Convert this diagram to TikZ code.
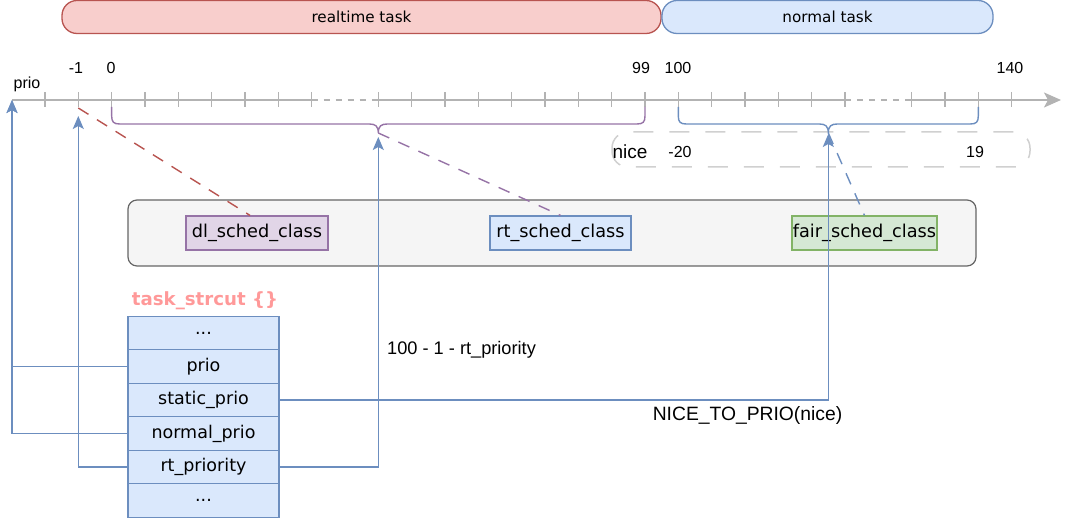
\documentclass[tikz,border=0pt]{standalone}
\usepackage{fontspec}
\setmainfont{DejaVu Sans}
\newfontfamily\arialf{Liberation Sans}
\usetikzlibrary{arrows.meta}
\definecolor{axisgray}{HTML}{B3B3B3}
\definecolor{bluel}{HTML}{6C8EBF}
\definecolor{bluef}{HTML}{DAE8FC}
\definecolor{redl}{HTML}{B85450}
\definecolor{redf}{HTML}{F8CECC}
\definecolor{purl}{HTML}{9673A6}
\definecolor{purf}{HTML}{E1D5E7}
\definecolor{grnl}{HTML}{82B366}
\definecolor{grnf}{HTML}{D5E8D4}
\definecolor{boxf}{HTML}{F5F5F5}
\definecolor{boxl}{HTML}{666666}
\definecolor{nicegray}{HTML}{D0D0D0}
\definecolor{titlec}{HTML}{FF9999}
\tikzset{
  pill/.style={draw, line width=1.3pt, rounded corners=15pt, inner sep=0pt,
    font=\fontsize{15.2}{17}\selectfont},
  axisline/.style={draw=axisgray, line width=1.8pt},
  tickmark/.style={draw=axisgray, line width=1.5pt},
  num/.style={font=\arialf\fontsize{16}{18}\selectfont, inner sep=0pt},
  lbl/.style={font=\arialf\fontsize{18.2}{20}\selectfont, inner sep=0pt},
  bracestyle/.style={line width=1.4pt, rounded corners=0pt},
  classbox/.style={draw, line width=1.2pt, minimum height=34pt, inner sep=0pt,
    font=\fontsize{17.7}{20}\selectfont},
  cell/.style={draw=bluel, fill=bluef, line width=1.3pt, minimum width=151pt,
    minimum height=33.5pt, inner sep=0pt, font=\fontsize{17.5}{20}\selectfont},
  conn/.style={draw=bluel, line width=1.4pt,
    -{Stealth[length=13pt,width=11pt,inset=3pt]}},
  dashlink/.style={line width=1.4pt, dash pattern=on 12pt off 10pt},
}
\newcommand{\mkbrace}[4]{% x1, xmid, x2, colour
  \draw[bracestyle, draw=#4] (#1,107) -- (#1,116)
    .. controls (#1,122) and ({#1+2},124) .. ({#1+8},124)
    -- ({#2-9},124) .. controls ({#2-3},124) and (#2,126) .. (#2,133)
    .. controls (#2,126) and ({#2+3},124) .. ({#2+9},124)
    -- ({#3-8},124) .. controls ({#3-2},124) and (#3,122) .. (#3,116)
    -- (#3,107);}
\begin{document}
\begin{tikzpicture}[x=1pt,y=-1pt]
\useasboundingbox (0,0) rectangle (1080,518);

% top bars
\node[pill, draw=redl, fill=redf, minimum width=599pt, minimum height=33pt] (rtbar) at (361.5,17) {realtime task};
\node[pill, draw=bluel, fill=bluef, minimum width=331pt, minimum height=33pt] (nbar) at (827.5,17) {normal task};

% nice dashed box
\draw[draw=nicegray, line width=1.5pt, dash pattern=on 20pt off 16pt, rounded corners=16pt] (612,132) rectangle (1030,167);

% axis
\coordinate (ax0) at (12,100);
\coordinate (t8) at ({45+33.333*8},100);
\coordinate (t10) at ({45+33.333*10},100);
\coordinate (t24) at ({45+33.333*24},100);
\coordinate (t26) at ({45+33.333*26},100);
\coordinate (axend) at (1061,100);
\draw[axisline] (ax0) -- (t8);
\draw[axisline, dash pattern=on 6pt off 6pt] (t8) -- (t10);
\draw[axisline] (t10) -- (t24);
\draw[axisline, dash pattern=on 6pt off 6pt] (t24) -- (t26);
\draw[axisline, -{Stealth[length=17pt,width=15pt,inset=4pt]}] (t26) -- (axend);
\foreach \k in {0,...,8,10,11,...,24,26,27,28,29}
  \draw[tickmark] ({45+33.333*\k},92.5) -- ({45+33.333*\k},107.5);

% axis labels
\node[num] (lprio) at (27,84) {prio};
\node[num] (lm1) at (76,68) {-1};
\node[num] (l0) at (111,68) {0};
\node[num] (l99) at (641,68) {99};
\node[num] (l100) at (678,68) {100};
\node[num] (l140) at (1010,68) {140};

% braces
\mkbrace{111.67}{378.3}{645}{purl}
\mkbrace{678.3}{828.3}{978.3}{bluel}
\coordinate (rtb) at (378.3,133);
\coordinate (nb) at (828.3,133);
\coordinate (m1) at (78.3,108);

% nice labels
\node[lbl, font=\arialf\fontsize{19}{21}\selectfont] (nice) at (630,152) {nice};
\node[num] (n20) at (680,152) {-20};
\node[num] (n19) at (975,152) {19};

% class box
\node[draw=boxl, fill=boxf, line width=1.2pt, rounded corners=9pt, minimum width=848pt, minimum height=66pt] (classes) at (552,233) {};
\node[classbox, draw=purl, fill=purf, minimum width=142pt] (dl) at (257,233) {dl\_sched\_class};
\node[classbox, draw=bluel, fill=bluef, minimum width=141pt] (rt) at (560.5,233) {rt\_sched\_class};
\node[classbox, draw=grnl, fill=grnf, minimum width=145pt] (fair) at (864.5,233) {fair\_sched\_class};

% dashed links
\draw[dashlink, draw=redl] (m1) -- ([xshift=-7pt]dl.north);
\draw[dashlink, draw=purl] (rtb) -- (rt.north);
\draw[dashlink, draw=bluel] (nb) -- (fair.north);

% task struct
\node[font=\bfseries\fontsize{18.2}{20}\selectfont, text=titlec, inner sep=0pt] (ttl) at (205,301) {task\_strcut \{\}};
\node[cell] (c0) at (203.5,333) {...};
\node[cell] (c1) at (203.5,366.5) {prio};
\node[cell] (c2) at (203.5,400) {static\_prio};
\node[cell] (c3) at (203.5,433.5) {normal\_prio};
\node[cell] (c4) at (203.5,467) {rt\_priority};
\node[cell] (c5) at (203.5,500.5) {...};

% connectors
\coordinate (paim) at (12,100);
\coordinate (m1aim) at (78.3,116);
\coordinate (rtaim) at (378.3,137);
\coordinate (naim) at (828.3,134);
\draw[conn] (c1.west) -| (paim);
\draw[conn] (c3.west) -| (paim);
\draw[conn] (c4.west) -| (m1aim);
\draw[conn] (c4.east) -| (rtaim);
\draw[conn] (c2.east) -| (naim);

\node[lbl, anchor=west] (f1) at (387,350) {100 - 1 - rt\_priority};
\node[lbl, font=\arialf\fontsize{19.3}{21}\selectfont] (f2) at (747.5,416) {NICE\_TO\_PRIO(nice)};
\end{tikzpicture}
\end{document}
